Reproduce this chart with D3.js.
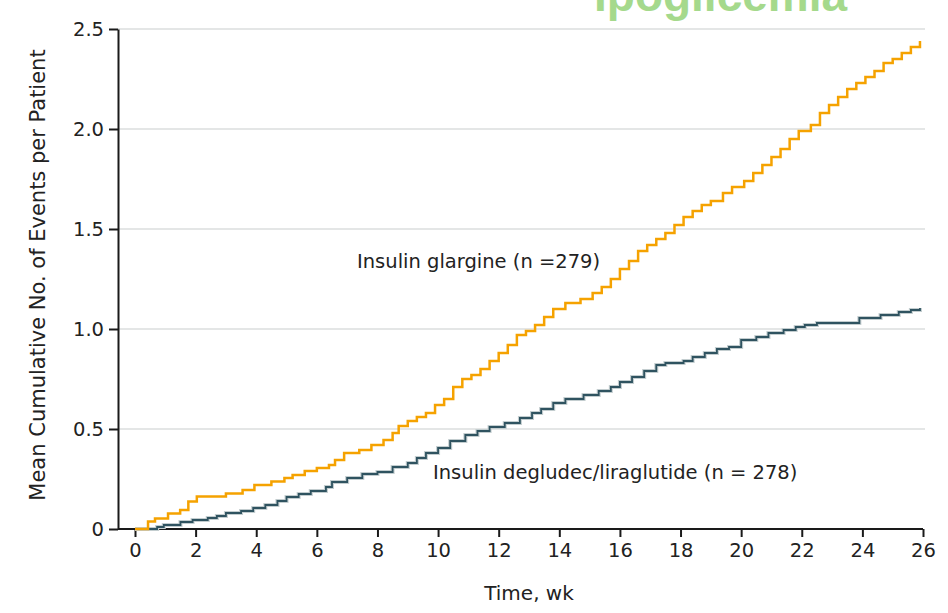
<!DOCTYPE html>
<html>
<head>
<meta charset="utf-8">
<script src="https://cdn.jsdelivr.net/npm/d3@7"></script>
<style>
  html, body { margin: 0; padding: 0; background: #fff; overflow: hidden; }
  svg text { font-family: "DejaVu Sans", sans-serif; fill: #222; }
</style>
</head>
<body>
<div id="chart"></div>
<script>
// weeks / mean cumulative events
const glargine = [
    [0, 0], [0.43, 0.037], [0.66, 0.053], [1.09, 0.078], [1.49, 0.095], [1.76, 0.137],
    [2.04, 0.162], [3.0, 0.178], [3.55, 0.195], [3.94, 0.22], [4.5, 0.237], [4.93, 0.255],
    [5.2, 0.27], [5.6, 0.29], [6.0, 0.305], [6.4, 0.32], [6.6, 0.345], [6.9, 0.38],
    [7.4, 0.395], [7.8, 0.42], [8.2, 0.445], [8.5, 0.48], [8.7, 0.515], [9.0, 0.54],
    [9.3, 0.56], [9.6, 0.58], [9.9, 0.62], [10.2, 0.65], [10.5, 0.71], [10.8, 0.75],
    [11.1, 0.77], [11.4, 0.8], [11.7, 0.84], [12.0, 0.88], [12.3, 0.92], [12.6, 0.97],
    [12.9, 0.99], [13.2, 1.02], [13.5, 1.06], [13.8, 1.1], [14.2, 1.13], [14.7, 1.15],
    [15.1, 1.18], [15.4, 1.21], [15.7, 1.25], [16.0, 1.3], [16.3, 1.34], [16.6, 1.39],
    [16.9, 1.42], [17.2, 1.45], [17.5, 1.48], [17.8, 1.52], [18.1, 1.56], [18.4, 1.59],
    [18.7, 1.62], [19.0, 1.64], [19.4, 1.68], [19.7, 1.71], [20.1, 1.74], [20.4, 1.78],
    [20.7, 1.82], [21.0, 1.86], [21.3, 1.9], [21.6, 1.95], [21.9, 1.99], [22.3, 2.02],
    [22.6, 2.08], [22.9, 2.12], [23.2, 2.16], [23.5, 2.2], [23.8, 2.23], [24.1, 2.26],
    [24.4, 2.29], [24.7, 2.33], [25.0, 2.35], [25.3, 2.38], [25.6, 2.41], [25.9, 2.44]
];

const degludec = [
    [0, 0], [0.73, 0.01], [0.95, 0.02], [1.5, 0.035], [1.9, 0.045], [2.4, 0.055],
    [2.7, 0.065], [3.0, 0.08], [3.5, 0.09], [3.9, 0.105], [4.3, 0.12], [4.7, 0.14],
    [5.0, 0.16], [5.4, 0.175], [5.8, 0.19], [6.3, 0.21], [6.5, 0.235], [7.0, 0.255],
    [7.5, 0.275], [8.0, 0.285], [8.5, 0.31], [9.0, 0.33], [9.3, 0.355], [9.6, 0.38],
    [10.0, 0.405], [10.4, 0.44], [10.9, 0.47], [11.3, 0.49], [11.7, 0.51], [12.2, 0.53],
    [12.7, 0.555], [13.1, 0.58], [13.4, 0.6], [13.8, 0.63], [14.2, 0.65], [14.8, 0.67],
    [15.3, 0.69], [15.7, 0.71], [16.0, 0.735], [16.4, 0.76], [16.8, 0.79], [17.2, 0.82],
    [17.5, 0.83], [18.1, 0.84], [18.4, 0.86], [18.8, 0.88], [19.2, 0.9], [19.6, 0.91],
    [20.0, 0.945], [20.5, 0.96], [20.9, 0.98], [21.4, 0.995], [21.8, 1.01], [22.1, 1.02],
    [22.5, 1.03], [23.9, 1.055], [24.6, 1.07], [25.2, 1.085], [25.6, 1.095], [25.9, 1.105]
];

const xTicks = [0, 2, 4, 6, 8, 10, 12, 14, 16, 18, 20, 22, 24, 26];
const yTicks = [0, 0.5, 1.0, 1.5, 2.0, 2.5];
const seriesLabels = ["Insulin glargine (n =279)", "Insulin degludec/liraglutide (n = 278)"];
const titleText = "Ipoglicemia";
const xTitle = "Time, wk";
const yTitle = "Mean Cumulative No. of Events per Patient";

const width = 948;
const height = 613;
const axisLeft = 118;

const svg = d3.select("#chart")
    .append("svg")
    .attr("width", width)
    .attr("height", height);

const x = d3.scaleLinear().domain([0, 26]).range([135, 923]);
const y = d3.scaleLinear().domain([0, 2.5]).range([529, 29]);

// green heading, cut off by the top edge like in the source image
svg.append("text")
    .attr("x", 594)
    .attr("y", 11)
    .attr("font-size", "46px")
    .attr("font-weight", "bold")
    .style("font-family", "'Liberation Sans', Arial, sans-serif")
    .style("fill", "#a5d98c")
    .text(titleText);

// gridlines
svg.append("g")
    .selectAll("line")
    .data(yTicks.filter(d => d > 0))
    .enter()
    .append("line")
    .attr("x1", axisLeft)
    .attr("x2", x(26) + 2)
    .attr("y1", d => y(d))
    .attr("y2", d => y(d))
    .attr("stroke", "#e4e6e6")
    .attr("stroke-width", 2);

// axes
const xAxis = svg.append("g")
    .attr("transform", `translate(0,${y(0)})`)
    .call(d3.axisBottom(x).tickValues(xTicks).tickSize(8).tickSizeOuter(0).tickPadding(6));
xAxis.select(".domain").attr("d", `M${axisLeft},0H${x(26)}`);

const yAxis = svg.append("g")
    .attr("transform", `translate(${axisLeft},0)`)
    .call(d3.axisLeft(y).tickValues(yTicks).tickSize(9).tickSizeOuter(0).tickPadding(5)
        .tickFormat(d => d === 0 ? "0" : d3.format(".1f")(d)));

[xAxis, yAxis].forEach(g => {
    g.select(".domain").attr("stroke", "#1a1a1a").attr("stroke-width", 2);
    g.selectAll(".tick line").attr("stroke", "#1a1a1a").attr("stroke-width", 2);
    g.selectAll(".tick text")
        .attr("font-size", "19.5px")
        .style("font-family", "'DejaVu Sans', sans-serif")
        .attr("fill", "#222");
});

// step curves
const line = d3.line()
    .x(d => x(d[0]))
    .y(d => y(d[1]))
    .curve(d3.curveStepAfter);

svg.append("path")
    .datum(degludec)
    .attr("fill", "none")
    .attr("stroke", "#c3cdcf")
    .attr("stroke-width", 4)
    .attr("d", line);

svg.append("path")
    .datum(degludec)
    .attr("fill", "none")
    .attr("stroke", "#2f5360")
    .attr("stroke-width", 1.8)
    .attr("d", line);

svg.append("path")
    .datum(glargine)
    .attr("fill", "none")
    .attr("stroke", "#f5a200")
    .attr("stroke-width", 2.5)
    .attr("d", line);

// series labels
svg.append("text")
    .attr("x", 357)
    .attr("y", 268)
    .attr("font-size", "19.5px")
    .text(seriesLabels[0]);

svg.append("text")
    .attr("x", 433)
    .attr("y", 479)
    .attr("font-size", "19.5px")
    .text(seriesLabels[1]);

// axis titles
svg.append("text")
    .attr("x", 529)
    .attr("y", 600)
    .attr("text-anchor", "middle")
    .attr("font-size", "20px")
    .text(xTitle);

svg.append("text")
    .attr("transform", `translate(45,275) rotate(-90)`)
    .attr("text-anchor", "middle")
    .attr("font-size", "21px")
    .text(yTitle);
</script>
</body>
</html>
